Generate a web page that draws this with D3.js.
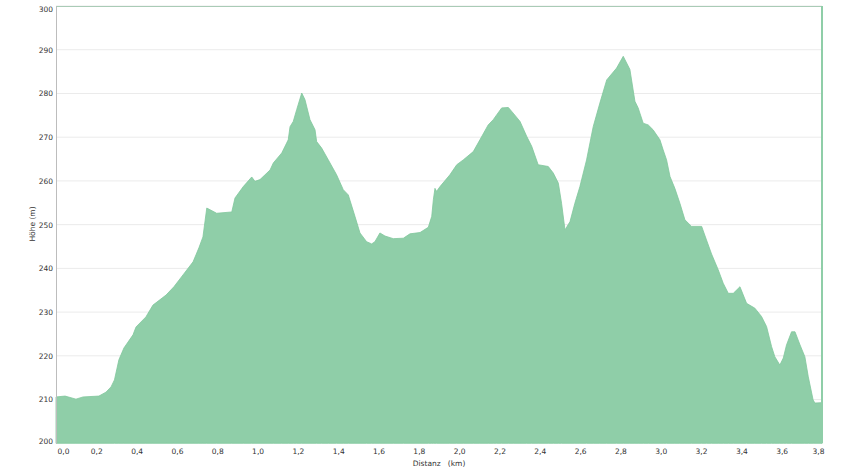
<!DOCTYPE html>
<html><head><meta charset="utf-8">
<script src="https://cdn.jsdelivr.net/npm/d3@7/dist/d3.min.js"></script>
<style>body{margin:0;background:#fff;}svg{display:block;}</style>
</head><body><svg id="c" width="860" height="474"></svg>
<script>
const distance = [0,0.045,0.099,0.134,0.213,0.248,0.273,0.29,0.312,0.337,0.382,0.397,0.446,0.481,0.546,0.585,0.63,0.68,0.709,0.729,0.748,0.797,0.872,0.888,0.929,0.971,0.987,1.012,1.062,1.078,1.12,1.152,1.161,1.177,1.194,1.219,1.235,1.26,1.285,1.293,1.318,1.351,1.392,1.425,1.45,1.483,1.508,1.541,1.566,1.582,1.607,1.632,1.673,1.723,1.756,1.806,1.847,1.864,1.872,1.88,1.888,1.905,1.954,1.988,2.02,2.07,2.103,2.144,2.169,2.186,2.211,2.244,2.268,2.302,2.335,2.36,2.392,2.442,2.467,2.492,2.508,2.525,2.55,2.574,2.599,2.632,2.665,2.698,2.732,2.781,2.814,2.847,2.872,2.888,2.913,2.938,2.962,2.996,3.012,3.029,3.046,3.07,3.095,3.12,3.153,3.203,3.227,3.252,3.285,3.31,3.335,3.36,3.393,3.426,3.467,3.5,3.525,3.55,3.566,3.591,3.608,3.624,3.649,3.666,3.691,3.715,3.732,3.756,3.765,3.8];
const elevation = [210.6,210.8,210.1,210.6,210.8,211.7,212.9,214.5,219.1,221.8,224.8,226.6,228.9,231.6,233.9,235.8,238.5,241.5,244.7,247.2,253.8,252.6,252.9,256.1,258.7,260.9,259.9,260.3,262.5,264.1,266.4,269.4,272.4,273.6,276.3,280.1,278.6,274.0,271.7,269.0,267.5,264.8,261.4,258.0,256.8,251.9,248.1,246.1,245.6,246.1,248.1,247.4,246.8,246.9,247.9,248.2,249.4,251.9,255.7,258.3,257.6,258.7,261.4,263.7,264.8,266.7,269.4,272.8,274.0,275.1,276.7,276.8,275.5,273.6,270.2,267.9,263.7,263.3,261.8,259.5,254.9,248.8,250.7,254.9,258.7,264.8,272.4,277.8,283.1,285.8,288.5,285.5,278.2,276.7,273.2,272.8,271.7,269.4,267.1,264.8,261.0,258.3,254.9,251.1,249.6,249.6,246.5,243.3,239.7,236.6,234.3,234.3,235.8,232.0,230.9,229.0,226.7,222.1,219.8,217.9,219.5,222.5,225.5,225.5,222.5,219.8,215.2,209.9,209.2,209.3];
const yTicks = [200,210,220,230,240,250,260,270,280,290,300];
const xTicks = [0,0.2,0.4,0.6,0.8,1.0,1.2,1.4,1.6,1.8,2.0,2.2,2.4,2.6,2.8,3.0,3.2,3.4,3.6,3.8];
const xTitle = "Distanz\u00a0\u00a0\u00a0(km)";
const yTitle = "Höhe (m)";

const svg = d3.select("#c");
const m = {l:56, r:38, t:6, b:30.7};
const W = 860 - m.l - m.r, H = 474 - m.t - m.b;
const g = svg.append("g").attr("transform", `translate(${m.l},${m.t})`);
const x = d3.scaleLinear().domain([0,3.8]).range([0,W]);
const y = d3.scaleLinear().domain([200,300]).range([H,0]);
const font = "DejaVu Sans, Verdana, sans-serif";

// grid
g.append("g").selectAll("line").data(yTicks.slice(1)).join("line")
  .attr("x1",0).attr("x2",W).attr("y1",d=>y(d)).attr("y2",d=>y(d))
  .attr("stroke","#ebebeb").attr("stroke-width",1);

const data = distance.map((d,i)=>({d, v: elevation[i]}));
const area = d3.area().x(p=>x(p.d)).y0(H).y1(p=>y(p.v));
g.append("path").datum(data).attr("d", area)
  .attr("fill","#8fcea8").attr("stroke","#80c69c").attr("stroke-width",0.8);

// frame
g.append("line").attr("x1",0).attr("x2",W).attr("y1",0.5).attr("y2",0.5)
  .attr("stroke","#a9cbb6").attr("stroke-width",1);
g.append("line").attr("x1",W).attr("x2",W).attr("y1",0).attr("y2",H)
  .attr("stroke","#8fcea8").attr("stroke-width",2);

// y axis
const ya = d3.axisLeft(y).tickValues(yTicks).tickSize(0).tickPadding(3).tickFormat(d3.format("d"));
const yg = g.append("g").call(ya);
yg.select(".domain").attr("stroke","#bdbdbd");
yg.selectAll("text").attr("font-family",font).attr("font-size","7.5px").attr("fill","#333")
  .attr("dy",(d)=> d===300 ? "0.75em" : (d===200 ? "0.05em" : "0.32em"));

// x axis
const xa = d3.axisBottom(x).tickValues(xTicks).tickSize(0).tickPadding(5)
  .tickFormat(d=>d3.format(".1f")(d).replace(".",","));
const xg = g.append("g").attr("transform",`translate(0,${H})`).call(xa);
xg.select(".domain").remove();
xg.selectAll("text").attr("font-family",font).attr("font-size","7.5px").attr("fill","#333")
  .attr("text-anchor",(d,i)=> i===0 ? "start" : (i===xTicks.length-1 ? "end" : "middle"))
  .attr("dx",(d,i)=> i===0 ? 1 : (i===xTicks.length-1 ? 2 : 0));

svg.append("text").attr("x", 439).attr("y", 466).attr("text-anchor","middle")
  .attr("font-family",font).attr("font-size","7.5px").attr("fill","#333").text(xTitle);
svg.append("text").attr("transform","translate(35,224) rotate(-90)").attr("text-anchor","middle")
  .attr("font-family",font).attr("font-size","7.5px").attr("fill","#333").text(yTitle);
</script></body></html>
